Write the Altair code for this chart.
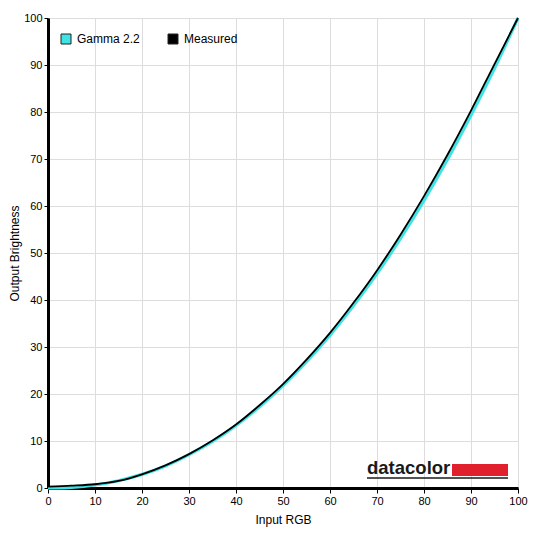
import altair as alt
import pandas as pd

inputs = [0, 5, 10, 15, 20, 25, 30, 35, 40, 45, 50, 55, 60, 65, 70, 75, 80, 85, 90, 95, 100]
gamma22 = [0, 0.14, 0.63, 1.55, 2.9, 4.7, 7.1, 9.9, 13.3, 17.3, 21.8, 26.9, 32.5, 38.8, 45.6, 53.1, 61.2, 69.9, 79.3, 89.3, 100]
measured = [0.3, 0.5, 0.8, 1.5, 2.9, 4.8, 7.2, 10.1, 13.5, 17.6, 22.1, 27.3, 33.0, 39.4, 46.3, 53.9, 62.1, 70.9, 80.3, 90.2, 100]
series_names = ["Gamma 2.2", "Measured"]
series_colors = ["#3fe3e3", "#000000"]
ticks = [0, 10, 20, 30, 40, 50, 60, 70, 80, 90, 100]

rows = []
for x, g, m in zip(inputs, gamma22, measured):
    rows.append({"x": x, "y": g, "series": series_names[0]})
    rows.append({"x": x, "y": m, "series": series_names[1]})
df = pd.DataFrame(rows)

FONT = "Liberation Sans"

xenc = alt.X("x:Q", scale=alt.Scale(domain=[0, 100], nice=False),
             axis=alt.Axis(values=ticks, title="Input RGB", labelFlush=False,
                           domainWidth=3, domainColor="#000", tickColor="#000",
                           tickSize=5, labelFontSize=11, titleFontSize=12,
                           labelColor="#000", titleColor="#000", labelPadding=2,
                           titleFontWeight="normal", titlePadding=8, labelFont=FONT, titleFont=FONT))
yenc = alt.Y("y:Q", scale=alt.Scale(domain=[0, 100], nice=False),
             axis=alt.Axis(values=ticks, title="Output Brightness", labelFlush=False,
                           domainWidth=3, domainColor="#000", tickColor="#000",
                           tickSize=4, labelFontSize=11, titleFontSize=12,
                           labelColor="#000", titleColor="#000", labelPadding=2,
                           titleFontWeight="normal", titlePadding=2, labelFont=FONT, titleFont=FONT))

legend = alt.Legend(title=None, orient="none", legendX=12, legendY=15, direction="horizontal",
                    symbolType="square", symbolSize=100, labelFontSize=12, labelFont=FONT,
                    labelColor="#000", columnPadding=26, labelOffset=5,
                    symbolStrokeColor="#222", symbolStrokeWidth=1, symbolOpacity=1)

scale = alt.Scale(domain=series_names, range=series_colors)

gamma_line = alt.Chart(df).transform_filter(alt.datum.series == series_names[0]).mark_line(
    strokeWidth=3.2, interpolate="monotone").encode(
    x=xenc, y=yenc, color=alt.Color("series:N", scale=scale, legend=None))
meas_line = alt.Chart(df).transform_filter(alt.datum.series == series_names[1]).mark_line(
    strokeWidth=1.8, interpolate="monotone").encode(
    x=xenc, y=yenc, color=alt.Color("series:N", scale=scale, legend=None))

legend_layer = alt.Chart(df).transform_filter("false").mark_square(
    filled=True, stroke="#222", strokeWidth=1, opacity=1, size=100).encode(
    x="x:Q", y="y:Q",
    fill=alt.Fill("series:N", scale=scale, legend=legend))

logo_text = alt.Chart(pd.DataFrame({"t": ["datacolor"]})).mark_text(
    font=FONT, fontWeight="bold", fontSize=18.5, align="left", baseline="alphabetic",
    color="#1a1a1a").encode(x=alt.value(319), y=alt.value(456), text="t:N")
logo_bar = alt.Chart(pd.DataFrame({"a": [1]})).mark_rect(color="#e0202c").encode(
    x=alt.value(404), x2=alt.value(460), y=alt.value(446), y2=alt.value(458))
logo_rule = alt.Chart(pd.DataFrame({"a": [1]})).mark_rule(color="#1a1a1a", strokeWidth=1.5).encode(
    x=alt.value(319), x2=alt.value(460), y=alt.value(460))

chart = alt.layer(gamma_line, meas_line, legend_layer, logo_text, logo_bar, logo_rule).resolve_scale(
    color="independent", fill="independent"
).properties(
    width=470, height=470, padding={"left": 40, "top": 10, "right": 10, "bottom": 40},
    autosize=alt.AutoSizeParams(type="none"),
).configure_view(stroke="#000", strokeWidth=1).configure_axis(
    gridColor="#bdbdbd", gridWidth=1
).configure(background="white")

chart.save("out.html", embed_options={"renderer": "svg", "actions": False})
